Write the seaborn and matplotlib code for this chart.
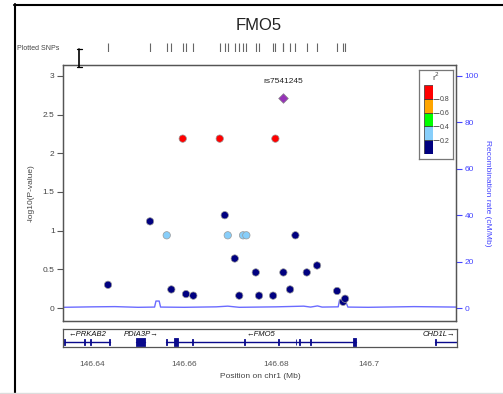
# Import modules
import seaborn as sns
import matplotlib.pyplot as plt
import numpy as np
import pandas as pd
from matplotlib.lines import Line2D

# Data
snp_pos = [146.64348, 146.65261, 146.65624, 146.65724, 146.65972, 146.66043, 146.66202,
           146.66776, 146.66885, 146.66950, 146.67102, 146.67200, 146.67283, 146.67354,
           146.67559, 146.67630, 146.67935, 146.67985, 146.68159, 146.68304, 146.68420,
           146.68667, 146.68891, 146.69326, 146.69457, 146.69500]
snp_logp = [0.30, 1.12, 0.94, 0.24, 2.19, 0.18, 0.16,
            2.19, 1.20, 0.94, 0.64, 0.16, 0.94, 0.94,
            0.46, 0.16, 0.16, 2.19, 0.46, 0.24, 0.94,
            0.46, 0.55, 0.22, 0.08, 0.12]
snp_r2bin = ['0.0-0.2', '0.0-0.2', '0.2-0.4', '0.0-0.2', '0.8-1.0', '0.0-0.2', '0.0-0.2',
             '0.8-1.0', '0.0-0.2', '0.2-0.4', '0.0-0.2', '0.0-0.2', '0.2-0.4', '0.2-0.4',
             '0.0-0.2', '0.0-0.2', '0.0-0.2', '0.8-1.0', '0.0-0.2', '0.0-0.2', '0.0-0.2',
             '0.0-0.2', '0.0-0.2', '0.0-0.2', '0.0-0.2', '0.0-0.2']
lead_name = 'rs7541245'
lead_pos = 146.68146
lead_logp = 2.71

recomb_pos = [146.6337, 146.640, 146.645, 146.650, 146.6536, 146.6539, 146.6546, 146.6549,
              146.660, 146.667, 146.6695, 146.672, 146.680, 146.686, 146.6875, 146.689,
              146.690, 146.6935, 146.6938, 146.6950, 146.6956, 146.700, 146.710, 146.7191]
recomb_rate = [0.3, 0.5, 0.6, 0.3, 0.4, 3.0, 3.0, 0.4,
               0.3, 0.5, 0.8, 0.3, 0.5, 0.8, 0.4, 0.9,
               0.4, 0.5, 3.5, 3.5, 0.4, 0.3, 0.6, 0.4]

gene_names = ['PRKAB2', 'PDIA3P', 'FMO5', 'CHD1L']
gene_start = [146.6339, 146.6496, 146.6561, 146.7143]
gene_end = [146.6439, 146.6515, 146.6972, 146.7350]
gene_strand = ['-', '+', '-', '+']
gene_exons = [[(146.6339, 146.6341), (146.6382, 146.6384), (146.6395, 146.6397), (146.6436, 146.6438)],
              [(146.6496, 146.6515)],
              [(146.6560, 146.6562), (146.6578, 146.6587), (146.6617, 146.6619), (146.6730, 146.6732),
               (146.6804, 146.6806), (146.6841, 146.6843), (146.6849, 146.6851), (146.6873, 146.6875),
               (146.6965, 146.6972)],
              [(146.7143, 146.7145)]]

r2_bins = ['0.0-0.2', '0.2-0.4', '0.4-0.6', '0.6-0.8', '0.8-1.0']
r2_colours = ['#000080', '#87CEFA', '#00FF00', '#FFA500', '#FF0000']
r2_ticks = [0.2, 0.4, 0.6, 0.8]

# Settings
W, H = 503, 394
xmin, xmax = 146.6337, 146.7191
grey = '#555555'
rblue = '#4444FF'
sns.set_style('white')
plt.rcParams['font.family'] = ['Liberation Sans', 'DejaVu Sans']
plt.rcParams['font.size'] = 6


def px_box(x0, y0, x1, y1):
    # pixel box (top-left origin) -> figure fraction rect
    return [x0 / W, 1 - y1 / H, (x1 - x0) / W, (y1 - y0) / H]


fig = plt.figure(figsize=(W / 100, H / 100), dpi=100)

# Main panel
ax = fig.add_axes(px_box(63, 65, 456, 321))
df = pd.DataFrame({'pos': snp_pos, 'logp': snp_logp, 'r2': snp_r2bin})
sns.scatterplot(data=df, x='pos', y='logp', hue='r2', hue_order=r2_bins,
                palette=dict(zip(r2_bins, r2_colours)), s=28, edgecolor='#999999',
                linewidth=0.5, legend=False, ax=ax, zorder=3)
ax.scatter([lead_pos], [lead_logp], marker='D', s=24, color='#9632B8',
           edgecolor='#888888', linewidth=0.5, zorder=4)
ax.text(lead_pos, lead_logp + 0.22, lead_name, ha='center', va='center', fontsize=6, color='#222222')
ax.set_xlim(xmin, xmax)
ax.set_ylim(-0.168, 3.142)
ax.set_yticks([0, 0.5, 1, 1.5, 2, 2.5, 3])
ax.set_yticklabels(['0', '0.5', '1', '1.5', '2', '2.5', '3'])
ax.set_xticks([])
ax.tick_params(axis='y', length=4, width=0.8, color=grey, labelcolor='#444444', labelsize=6, pad=2)
ax.set_xlabel('')
ax.set_ylabel('-log10(P-value)', fontsize=6, color='#444444', labelpad=6)
for sp in ax.spines.values():
    sp.set_color(grey)
    sp.set_linewidth(0.9)

# Recombination rate on twin axis
ax2 = ax.twinx()
sns.lineplot(x=recomb_pos, y=recomb_rate, color='#6B6BFF', linewidth=1.0, ax=ax2, zorder=1)
ax2.set_ylim(-0.168 * 100 / 3, 3.142 * 100 / 3)
ax2.set_yticks([0, 20, 40, 60, 80, 100])
ax2.tick_params(axis='y', length=4, width=0.8, color=rblue, labelcolor=rblue, labelsize=6, pad=2)
ax2.set_ylabel('Recombination rate (cM/Mb)', rotation=270, color=rblue, fontsize=6, labelpad=9)
ax2.set_xlim(xmin, xmax)
for sp in ax2.spines.values():
    sp.set_color(grey)
    sp.set_linewidth(0.9)
ax.set_zorder(ax2.get_zorder() + 1)
ax.patch.set_visible(False)

# Plotted SNPs rug
ax_rug = fig.add_axes(px_box(63, 43, 456, 52))
ax_rug.vlines(snp_pos + [lead_pos], 0, 1, color='#666666', linewidth=0.8)
ax_rug.set_xlim(xmin, xmax)
ax_rug.set_ylim(0, 1)
ax_rug.axis('off')
fig.text(17 / W, 1 - 49 / H, 'Plotted SNPs', fontsize=5, color='#444444', va='center', ha='left')

# r2 legend
ax_lbox = fig.add_axes(px_box(419, 70, 453, 159))
ax_lbox.set_xticks([])
ax_lbox.set_yticks([])
for sp in ax_lbox.spines.values():
    sp.set_color('#777777')
    sp.set_linewidth(0.9)
ax_lbox.text(0.5, 0.92, 'r$^2$', ha='center', va='center', fontsize=6, color='#444444',
             transform=ax_lbox.transAxes)
ax_cb = fig.add_axes(px_box(424, 85, 433, 154))
for i, c in enumerate(r2_colours):
    ax_cb.bar(0.5, 0.2, bottom=i * 0.2, width=1, color=c, edgecolor='#333333', linewidth=0.5)
ax_cb.set_xlim(0, 1)
ax_cb.set_ylim(0, 1)
ax_cb.set_xticks([])
ax_cb.yaxis.tick_right()
ax_cb.set_yticks(r2_ticks)
ax_cb.set_yticklabels([str(t) for t in r2_ticks])
ax_cb.tick_params(axis='y', length=4, width=0.6, color='#444444', labelcolor='#444444', labelsize=5, pad=1)
for sp in ax_cb.spines.values():
    sp.set_visible(False)

# Gene panel
axg = fig.add_axes(px_box(63, 329, 457, 347))
gcol = '#0A0A8C'
for name, gs, ge, st, exons in zip(gene_names, gene_start, gene_end, gene_strand, gene_exons):
    axg.plot([gs, ge], [0.28, 0.28], color=gcol, linewidth=1.0)
    for es, ee in exons:
        h = 0.22 if ee - es > 0.0005 else 0.18
        axg.fill_between([es, ee], 0.28 - h, 0.28 + h, color=gcol, linewidth=0.6, edgecolor=gcol)
    label = ('\u2190' + name) if st == '-' else (name + '\u2192')
    vis_s, vis_e = max(gs, xmin), min(ge, xmax)
    cx = (vis_s + vis_e) / 2
    kw = dict(va='center', fontsize=5.5, style='italic', color='#111111')
    if cx + 0.0035 > xmax:
        axg.text(xmax - 0.0004, 0.68, label, ha='right', **kw)
    elif cx - 0.0035 < xmin:
        axg.text(xmin + 0.0004, 0.68, label, ha='left', **kw)
    else:
        axg.text(cx, 0.68, label, ha='center', **kw)
axg.set_xlim(xmin, xmax)
axg.set_ylim(0, 1)
axg.set_yticks([])
axg.set_xticks([146.64, 146.66, 146.68, 146.70])
axg.set_xticklabels(['146.64', '146.66', '146.68', '146.7'])
axg.tick_params(axis='x', length=5, width=0.8, color='#888888', labelcolor='#555555', labelsize=6, pad=5)
axg.set_xlabel('Position on chr1 (Mb)', fontsize=6, color='#444444', labelpad=4)
for sp in axg.spines.values():
    sp.set_color(grey)
    sp.set_linewidth(0.9)

# Title
fig.text(259 / W, 1 - 26 / H, 'FMO5', ha='center', va='center', fontsize=12, color='#222222')

# Screenshot frame lines and the I-beam cursor
fig.add_artist(Line2D([14.5 / W, 14.5 / W], [0, 1 - 4 / H], color='black', linewidth=1.5,
                      transform=fig.transFigure))
fig.add_artist(Line2D([14 / W, 1], [1 - 4.5 / H, 1 - 4.5 / H], color='black', linewidth=1.5,
                      transform=fig.transFigure))
fig.add_artist(Line2D([0, 1], [1 / H, 1 / H], color='#dddddd', linewidth=1,
                      transform=fig.transFigure))
for yy in (49, 67):
    fig.add_artist(Line2D([76.5 / W, 82 / W], [1 - yy / H, 1 - yy / H], color='black',
                          linewidth=0.9, transform=fig.transFigure))
fig.add_artist(Line2D([79.2 / W, 79.2 / W], [1 - 49 / H, 1 - 67 / H], color='black',
                      linewidth=1.2, transform=fig.transFigure))

plt.savefig('out.png', dpi=100)
